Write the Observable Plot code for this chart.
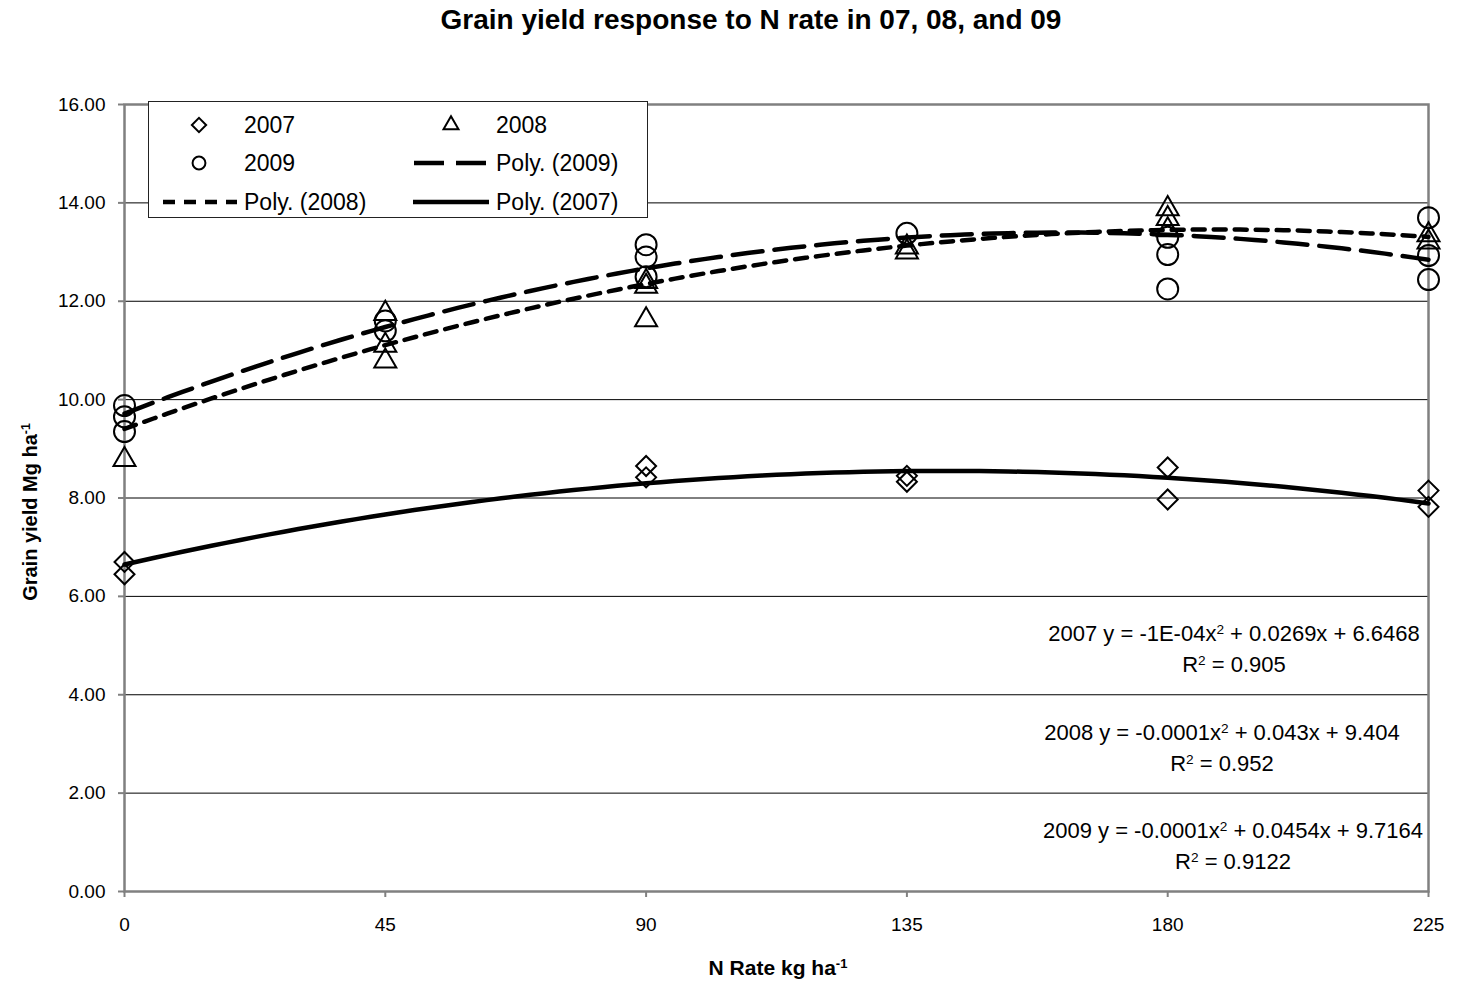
<!DOCTYPE html>
<html><head><meta charset="utf-8">
<script src="https://cdn.jsdelivr.net/npm/d3@7"></script>
<script src="https://cdn.jsdelivr.net/npm/@observablehq/plot@0.6"></script>
<style>
body{margin:0;background:#fff;font-family:"Liberation Sans",Arial,sans-serif;color:#000;}
#wrap{position:relative;width:1459px;height:985px;overflow:hidden;}
#chart{position:absolute;left:0;top:0;}
.abs{position:absolute;white-space:nowrap;}
sup{font-size:0.62em;vertical-align:0.55em;line-height:0;}
#title{left:751px;top:6px;transform:translateX(-50%);font-weight:bold;font-size:28px;line-height:28px;}
#xlab{left:778px;top:956px;transform:translateX(-50%);font-weight:bold;font-size:21px;line-height:24px;}
#ylab{left:30px;top:512px;transform:translate(-50%,-50%) rotate(-90deg);font-weight:bold;font-size:20px;line-height:24px;}
#legend{left:148px;top:101px;width:498px;height:115px;border:1.5px solid #222;background:#fff;}
.li{position:absolute;font-size:23px;line-height:26px;white-space:nowrap;}
.eq{position:absolute;width:500px;text-align:center;font-size:22px;line-height:31px;}
</style></head>
<body><div id="wrap"><div id="chart"></div></div>
<script>
// ---- data ----
const xTicks = [0, 45, 90, 135, 180, 225];
const yTicks = [0, 2, 4, 6, 8, 10, 12, 14, 16];
const gridLines = [2, 4, 6, 8, 10, 12, 14];

const x2007 = [0, 0, 90, 90, 135, 135, 180, 180, 225, 225];
const y2007 = [6.70, 6.45, 8.65, 8.42, 8.45, 8.33, 8.62, 7.97, 8.15, 7.82];

const x2008 = [0, 45, 45, 45, 90, 90, 90, 135, 135, 180, 180, 180, 225, 225];
const y2008 = [8.78, 11.75, 11.10, 10.78, 12.40, 12.30, 11.62, 13.10, 13.00, 13.88, 13.68, 13.45, 13.35, 13.20];

const x2009 = [0, 0, 0, 45, 45, 90, 90, 90, 135, 180, 180, 180, 225, 225, 225];
const y2009 = [9.88, 9.65, 9.35, 11.60, 11.40, 13.15, 12.90, 12.50, 13.38, 13.30, 12.95, 12.25, 13.70, 12.93, 12.44];

// polynomial trend lines (y = a x^2 + b x + c), coefficients
const trendYears = ["2007", "2008", "2009"];
const trendA = [-0.000095, -0.000114, -0.00014];
const trendB = [0.0269, 0.043, 0.0454];
const trendC = [6.6468, 9.404, 9.7164];
const trendDash = ["none", "12,9", "30,12"];

const equations = [
  {l1: "2007 y = -1E-04x<sup>2</sup> + 0.0269x + 6.6468", l2: "R<sup>2</sup> = 0.905"},
  {l1: "2008 y = -0.0001x<sup>2</sup> + 0.043x + 9.404", l2: "R<sup>2</sup> = 0.952"},
  {l1: "2009 y = -0.0001x<sup>2</sup> + 0.0454x + 9.7164", l2: "R<sup>2</sup> = 0.9122"}
];

// ---- build tables ----
const pts = (xs, ys) => xs.map((x, i) => ({x, y: ys[i]}));
const p2007 = pts(x2007, y2007), p2008 = pts(x2008, y2008), p2009 = pts(x2009, y2009);
const xs = d3.range(0, 225.01, 2.5);
const trends = trendYears.map((yr, k) => xs.map(x => ({x, y: trendA[k]*x*x + trendB[k]*x + trendC[k], yr})));

const gray = "#808080";
const chart = Plot.plot({
  width: 1459, height: 985,
  marginLeft: 124, marginRight: 31, marginTop: 104, marginBottom: 94,
  style: {fontFamily: "Liberation Sans, Arial, sans-serif", fontSize: "19px", color: "#000", background: "transparent"},
  x: {domain: [0, 225]},
  y: {domain: [0, 16]},
  marks: [
    Plot.ruleY(gridLines, {stroke: "#000", strokeWidth: 1}),
    Plot.frame({stroke: gray, strokeWidth: 2.5}),
    Plot.axisY({ticks: yTicks, tickFormat: d3.format(".2f"), tickSize: 6, tickPadding: 13, stroke: gray, strokeWidth: 2, fontSize: 19, label: null, fill: "#000"}),
    Plot.axisX({ticks: xTicks, tickSize: 6, tickPadding: 20, stroke: gray, strokeWidth: 2, fontSize: 19, label: null, fill: "#000"}),
    Plot.dot(p2007, {x: "x", y: "y", symbol: "diamond2", r: 9, stroke: "#000", strokeWidth: 2, fill: "none"}),
    Plot.dot(p2008, {x: "x", y: "y", symbol: "triangle2", r: 10.5, stroke: "#000", strokeWidth: 2, fill: "none"}),
    Plot.dot(p2009, {x: "x", y: "y", symbol: "circle", r: 10.5, stroke: "#000", strokeWidth: 2, fill: "none"}),
    ...trends.map((t, k) => Plot.line(t, {x: "x", y: "y", stroke: "#000", strokeWidth: 4.5, strokeDasharray: trendDash[k] === "none" ? null : trendDash[k]}))
  ]
});
document.getElementById("chart").appendChild(chart);

// ---- text and legend ----
const wrap = document.getElementById("wrap");
function add(html, cls, id, style) {
  const d = document.createElement("div");
  d.className = cls; if (id) d.id = id; d.innerHTML = html;
  if (style) d.style.cssText = style;
  wrap.appendChild(d); return d;
}
add("Grain yield response to N rate in 07, 08, and 09", "abs", "title");
add("N Rate kg ha<sup>-1</sup>", "abs", "xlab");
add("Grain yield Mg ha<sup>-1</sup>", "abs", "ylab");

const eqCenters = [1234, 1222, 1233];
const eqTops = [618, 717, 815];
equations.forEach((e, i) => add(e.l1 + "<br>" + e.l2, "eq", null, `left:${eqCenters[i]-250}px;top:${eqTops[i]}px;`));

const leg = add("", "abs", "legend");
const legItems = [
  {label: "2007", kind: "diamond", cx: 50, cy: 23, tx: 95},
  {label: "2008", kind: "triangle", cx: 302, cy: 23, tx: 347},
  {label: "2009", kind: "circle", cx: 50, cy: 61, tx: 95},
  {label: "Poly. (2009)", kind: "line", dash: trendDash[2], x1: 265, x2: 340, cy: 61, tx: 347},
  {label: "Poly. (2008)", kind: "line", dash: trendDash[1], x1: 14, x2: 88, cy: 100, tx: 95},
  {label: "Poly. (2007)", kind: "line", dash: trendDash[0], x1: 264, x2: 340, cy: 100, tx: 347}
];
const lsvg = d3.select(leg).append("svg").attr("width", 498).attr("height", 115).style("position", "absolute").style("left", 0).style("top", 0);
legItems.forEach(it => {
  if (it.kind === "line") {
    lsvg.append("line").attr("x1", it.x1).attr("x2", it.x2).attr("y1", it.cy).attr("y2", it.cy)
      .attr("stroke", "#000").attr("stroke-width", 4.5).attr("stroke-dasharray", it.dash === "none" ? null : it.dash);
  } else {
    const sym = it.kind === "diamond" ? d3.symbolDiamond2 : it.kind === "triangle" ? d3.symbolTriangle2 : d3.symbolCircle;
    const size = it.kind === "diamond" ? 130 : it.kind === "triangle" ? 160 : 130;
    lsvg.append("path").attr("d", d3.symbol(sym, size)()).attr("transform", `translate(${it.cx},${it.cy})`)
      .attr("fill", "none").attr("stroke", "#000").attr("stroke-width", 2);
  }
  const t = document.createElement("div");
  t.className = "li"; t.textContent = it.label;
  t.style.left = it.tx + "px"; t.style.top = (it.cy - 13) + "px";
  leg.appendChild(t);
});
</script></body></html>
